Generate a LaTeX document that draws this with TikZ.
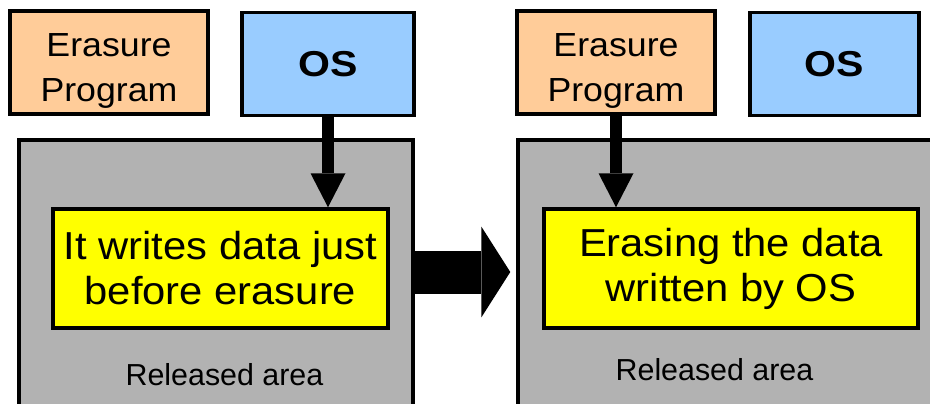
\documentclass[tikz,border=0pt]{standalone}
\usepackage{fontspec}
\setmainfont{Liberation Sans}
\newfontfamily\wideA[FakeStretch=1.07]{Liberation Sans}
\newfontfamily\wideB[FakeStretch=1.14]{Liberation Sans}
\usetikzlibrary{calc,positioning,arrows.meta}
\definecolor{peach}{HTML}{FFCC99}
\definecolor{skyblue}{HTML}{99CCFF}
\definecolor{areagrey}{HTML}{B2B2B2}
\definecolor{hilite}{HTML}{FFFF00}
\newcommand{\padtop}{\rule{0pt}{0.81cm}}

\begin{document}
\begin{tikzpicture}[x=0.02cm, y=-0.02cm]
\tikzstyle{box}=[draw, line width=2pt, inner sep=0pt, align=center]
\tikzstyle{prog}=[box, fill=peach, minimum width=3.96cm, minimum height=2.06cm,
                  font=\wideA\fontsize{19pt}{25.6pt}\selectfont]
\tikzstyle{sys}=[box, fill=skyblue, minimum height=2.06cm,
                 font=\wideB\bfseries\fontsize{20.5pt}{24pt}\selectfont]
\tikzstyle{area}=[box, fill=areagrey, minimum height=6cm]
\tikzstyle{action}=[box, fill=hilite, minimum height=2.38cm,
                    font=\wideA\fontsize{22.2pt}{25.6pt}\selectfont]
\tikzstyle{arealabel}=[inner sep=0pt, font=\fontsize{17.3pt}{20pt}\selectfont]
\tikzstyle{link}=[line width=0.24cm,
                  -{Triangle[length=0.68cm, width=0.7cm, line width=0pt]}]
\clip (0,0) rectangle (930,403);
% before erasure
\node[area, minimum width=7.88cm] (grayL) at (216,290) {};
\node[action, minimum width=6.7cm] (yelL) at (220.5,268.5) {It writes data just\\before erasure};
\node[arealabel] (relL) at (224.5,374.5) {Released area};
\node[prog] (erL) at (109,62.5) {\padtop Erasure\\Program};
\node[sys, minimum width=3.44cm] (osL) at (328,64) {OS};
% erasing
\node[area, minimum width=8.64cm] (grayR) at (734,290) {};
\node[action, minimum width=7.48cm] (yelR) at (731,268.5) {Erasing the data\\written by OS};
\node[arealabel] (relR) at (714.5,369.5) {Released area};
\node[prog] (erR) at (616,62.5) {\padtop Erasure\\Program};
\node[sys, minimum width=3.38cm] (osR) at (834.5,64) {OS};
\draw[link] (osL.south) -- (osL.south |- yelL.north);
\draw[link] (erR.south) -- (erR.south |- yelR.north);
\draw[line width=0.86cm, shorten >=0.12cm,
      -{Triangle[length=0.58cm, width=1.82cm, line width=0pt]}]
      (grayL.east |- 0,272) -- (grayR.west |- 0,272);
\end{tikzpicture}
\end{document}
